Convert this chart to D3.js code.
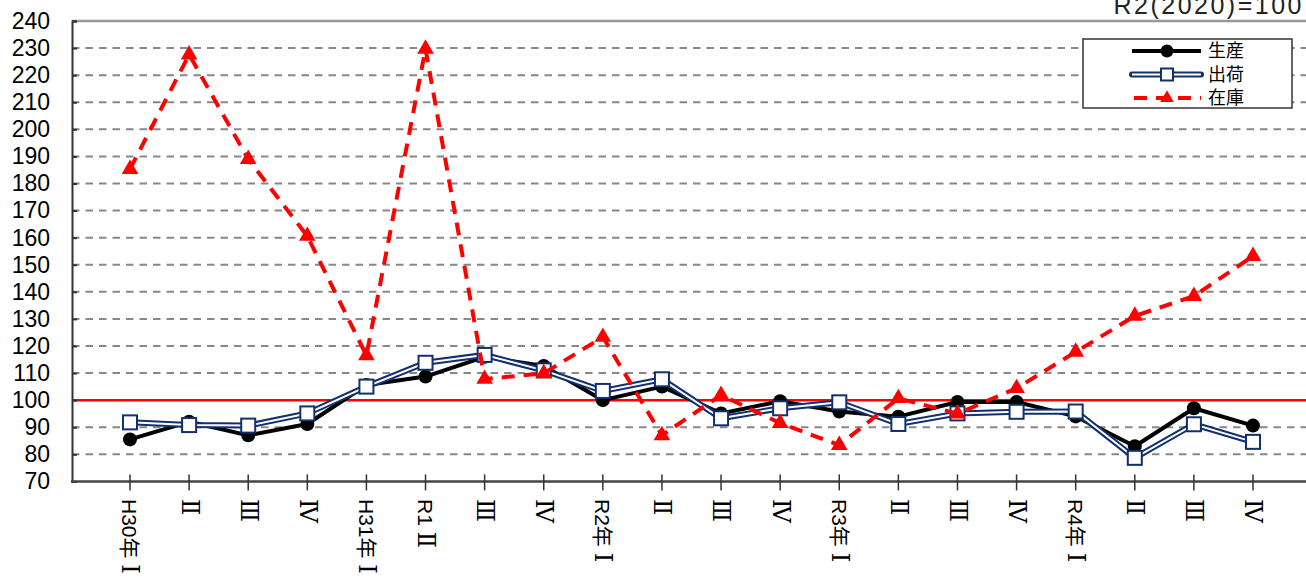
<!DOCTYPE html>
<html><head><meta charset="utf-8">
<script src="https://cdn.jsdelivr.net/npm/d3@7"></script>
<style>
html,body{margin:0;padding:0;background:#fff;}
svg{display:block;}
</style></head>
<body>
<svg id="c" width="1306" height="584"></svg>
<script>
const categories = ["H30年 Ⅰ","Ⅱ","Ⅲ","Ⅳ","H31年 Ⅰ","R1 Ⅱ","Ⅲ","Ⅳ","R2年 Ⅰ","Ⅱ","Ⅲ","Ⅳ","R3年 Ⅰ","Ⅱ","Ⅲ","Ⅳ","R4年 Ⅰ","Ⅱ","Ⅲ","Ⅳ"];
const production = [85.5,92,87,91.2,105.6,108.7,116,112.6,100,105,95.1,99.6,95.8,93.9,99.3,99.3,94,83,97,90.6];
const shipment   = [91.8,90.8,90.6,95.1,105,113.8,116.7,111,103.4,107.7,93.3,97,99.2,91.2,95.1,95.7,95.8,78.7,91.1,84.6];
const inventory  = [185.3,227.6,189,160.6,116.5,229.7,107.8,109.9,123.3,87,101.9,91.5,83.4,100.7,95,104.4,117.8,131.1,138.4,153.2];
const yTicks = [70,80,90,100,110,120,130,140,150,160,170,180,190,200,210,220,230,240];
const seriesNames = ["生産","出荷","在庫"];
const baseNote = "R2(2020)=100";

(function(){
const svg = d3.select("#c");
const pLeft = 72, pRight = 1306, pBottom = 481.4;
const x = d3.scalePoint().domain(d3.range(categories.length)).range([130, 1253]);
const y = d3.scaleLinear().domain([70, 240]).range([pBottom, 21]);

// gridlines
svg.append("g").selectAll("line").data(yTicks.filter(v => v > 70 && v < 240 && v !== 100)).join("line")
  .attr("x1", pLeft).attr("x2", pRight).attr("y1", d => y(d)).attr("y2", d => y(d))
  .attr("stroke", "#888").attr("stroke-width", 2).attr("stroke-dasharray", "7.5,6");
// top border
svg.append("line").attr("x1", pLeft).attr("x2", pRight).attr("y1", y(240)).attr("y2", y(240))
  .attr("stroke", "#999").attr("stroke-width", 2.5);
// 100 line
svg.append("line").attr("x1", pLeft).attr("x2", pRight).attr("y1", y(100)).attr("y2", y(100))
  .attr("stroke", "#ff0000").attr("stroke-width", 2.5);

// y axis
const yAxis = svg.append("g").attr("transform", `translate(${pLeft},0)`)
  .call(d3.axisLeft(y).tickValues(yTicks).tickSize(-5).tickPadding(22).tickFormat(d3.format("d")));
yAxis.select(".domain").attr("stroke", "#333").attr("stroke-width", 2);
yAxis.selectAll(".tick line").attr("stroke", "#333").attr("stroke-width", 2);
yAxis.selectAll(".tick text").attr("font-family", "'Liberation Sans', Arial, sans-serif")
  .attr("font-size", 23).attr("fill", "#000");

// x axis
svg.append("line").attr("x1", pLeft - 1).attr("x2", pRight).attr("y1", pBottom).attr("y2", pBottom)
  .attr("stroke", "#444").attr("stroke-width", 2.5);
svg.append("g").selectAll("line").data(d3.range(categories.length)).join("line")
  .attr("x1", d => x(d)).attr("x2", d => x(d)).attr("y1", pBottom - 7).attr("y2", pBottom + 9)
  .attr("stroke", "#333").attr("stroke-width", 1.5);
const labels = svg.append("g").selectAll("text").data(categories).join("text")
  .attr("transform", (d, i) => `translate(${x(i)},499) rotate(90)`)
  .attr("dy", "0.36em").attr("font-size", 21).attr("fill", "#000");
labels.each(function(d) {
  const t = d3.select(this);
  const m = d.match(/^(.*?)([ⅠⅡⅢⅣ])$/);
  if (m[1]) t.append("tspan").attr("font-family", "'Liberation Sans','Noto Sans CJK JP',sans-serif").text(m[1]);
  t.append("tspan").attr("font-family", "'DejaVu Serif','Liberation Serif',serif").attr("font-size", 24).text(m[2]);
});

// lines
const line = d3.line().x((d, i) => x(i)).y(d => y(d));
// production
svg.append("path").datum(production).attr("d", line).attr("fill", "none")
  .attr("stroke", "#000").attr("stroke-width", 4).attr("stroke-linejoin", "round");
svg.append("g").selectAll("circle").data(production).join("circle")
  .attr("cx", (d, i) => x(i)).attr("cy", d => y(d)).attr("r", 7).attr("fill", "#000");
// shipment
svg.append("path").datum(shipment).attr("d", line).attr("fill", "none")
  .attr("stroke", "#12306e").attr("stroke-width", 6).attr("stroke-linejoin", "miter");
svg.append("path").datum(shipment).attr("d", line).attr("fill", "none")
  .attr("stroke", "#fff").attr("stroke-width", 2).attr("stroke-linejoin", "miter");
svg.append("g").selectAll("rect").data(shipment).join("rect")
  .attr("x", (d, i) => x(i) - 7).attr("y", d => y(d) - 7).attr("width", 14).attr("height", 14)
  .attr("fill", "#fff").attr("stroke", "#12306e").attr("stroke-width", 2);
// inventory
const tri = d3.symbol().type(d3.symbolTriangle).size(120);
svg.append("path").datum(inventory).attr("d", line).attr("fill", "none")
  .attr("stroke", "#ff0000").attr("stroke-width", 4).attr("stroke-dasharray", "13,9");
svg.append("g").selectAll("path").data(inventory).join("path")
  .attr("d", tri).attr("transform", (d, i) => `translate(${x(i)},${y(d)})`).attr("fill", "#ff0000");

// note
svg.append("text").attr("x", 1304).attr("y", 14).attr("text-anchor", "end")
  .attr("font-family", "'Liberation Sans', Arial, sans-serif").attr("font-size", 25)
  .attr("letter-spacing", 2.5).attr("fill", "#222").text(baseNote);

// legend
const lg = svg.append("g");
lg.append("rect").attr("x", 1083).attr("y", 39).attr("width", 209).attr("height", 69)
  .attr("fill", "#fff").attr("stroke", "#333").attr("stroke-width", 1.5);
const ly = [51, 74.5, 98];
const lx1 = 1132, lx2 = 1201, lm = 1167;
lg.append("line").attr("x1", lx1).attr("x2", lx2).attr("y1", ly[0]).attr("y2", ly[0]).attr("stroke", "#000").attr("stroke-width", 4);
lg.append("circle").attr("cx", lm).attr("cy", ly[0]).attr("r", 6.5).attr("fill", "#000");
lg.append("line").attr("x1", lx1).attr("x2", lx2).attr("y1", ly[1]).attr("y2", ly[1]).attr("stroke", "#12306e").attr("stroke-width", 6).attr("stroke-linecap", "round");
lg.append("line").attr("x1", lx1).attr("x2", lx2).attr("y1", ly[1]).attr("y2", ly[1]).attr("stroke", "#fff").attr("stroke-width", 2);
lg.append("rect").attr("x", lm - 6).attr("y", ly[1] - 6).attr("width", 12).attr("height", 12).attr("fill", "#fff").attr("stroke", "#12306e").attr("stroke-width", 2);
lg.append("line").attr("x1", lx1).attr("x2", lx2).attr("y1", ly[2]).attr("y2", ly[2]).attr("stroke", "#ff0000").attr("stroke-width", 4).attr("stroke-dasharray", "13,9").attr("stroke-dashoffset", -2);
lg.append("path").attr("d", d3.symbol().type(d3.symbolTriangle).size(80)).attr("transform", `translate(${lm},${ly[2]})`).attr("fill", "#ff0000");
lg.selectAll("text.l").data(seriesNames).join("text").attr("class", "l")
  .attr("x", 1208).attr("y", (d, i) => ly[i]).attr("dy", "0.36em")
  .attr("font-family", "'Noto Sans CJK JP', sans-serif").attr("font-size", 18).attr("fill", "#000").text(d => d);
})();
</script>
</body></html>
